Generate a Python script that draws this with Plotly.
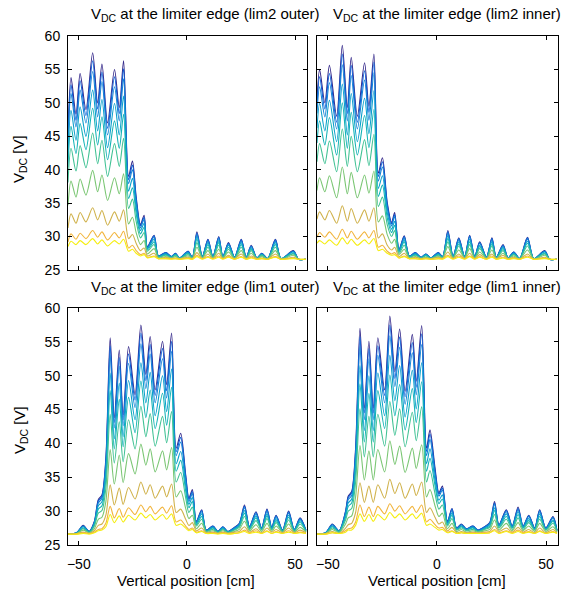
"""V_DC profiles along the limiter edge, four panels (lim2/lim1, outer/inner)."""

import plotly.graph_objects as go

FONT = "Liberation Sans, Arial, sans-serif"

# parula-like colours, top curve (dark) -> bottom curve (yellow)
LINE_COLORS = [
    "#35298a", "#0a5fd8", "#1483d4", "#0aa0cc", "#14b3b6",
    "#40c294", "#7ac673", "#d0b24c", "#f2b53d", "#f5ee10",
]

PANEL_TITLES = [
    "V<sub>DC</sub> at the limiter edge (lim2 outer)",
    "V<sub>DC</sub> at the limiter edge (lim2 inner)",
    "V<sub>DC</sub> at the limiter edge (lim1 outer)",
    "V<sub>DC</sub> at the limiter edge (lim1 inner)",
]
Y_TICKS = [25, 30, 35, 40, 45, 50, 55, 60]
X_TICKS = [-50, 0, 50]

# ---- lim2 outer (top left) ----
TL_X = [-55.0, -53.6, -51.3, -49.4, -46.7, -43.6, -41.3, -39.3, -36.7, -33.5, -31.3, -29.3, -27.0, -25.2,
        -23.5, -21.5, -19.8, -18.3, -15.2, -13.2, -9.8, -7.2, -5.3, -3.4, 0.5, 2.5, 4.6, 7.1, 9.7, 12.0,
        14.7, 16.6, 19.2, 22.0, 25.1, 27.4, 29.7, 32.3, 34.6, 37.3, 40.9, 43.5, 49.2, 51.6, 55.0]
TL_LINES = [
    [45.5, 53.8, 48.3, 54.4, 49.0, 57.5, 50.0, 55.8, 47.0, 55.0, 49.3, 56.3, 39.0, 41.3, 36.0, 31.8, 33.2, 28.5,
     30.2, 27.1, 27.6, 27.0, 27.5, 26.8, 27.8, 26.9, 30.7, 27.0, 29.6, 27.0, 30.0, 27.0, 29.1, 26.9, 29.6, 26.9,
     28.7, 26.8, 27.5, 26.7, 29.6, 26.7, 27.9, 26.6, 26.6],
    [44.7, 52.7, 47.4, 53.3, 48.1, 56.3, 49.1, 54.6, 46.2, 53.9, 48.4, 55.1, 38.5, 40.7, 35.6, 31.6, 32.9, 28.4,
     30.1, 27.1, 27.6, 27.0, 27.5, 26.8, 27.8, 26.9, 30.5, 27.0, 29.5, 27.0, 29.9, 27.0, 29.0, 26.9, 29.5, 26.9,
     28.6, 26.8, 27.5, 26.7, 29.5, 26.7, 27.8, 26.6, 26.6],
    [43.8, 51.4, 46.4, 51.9, 47.0, 54.7, 47.9, 53.2, 45.2, 52.4, 47.3, 53.6, 37.9, 40.0, 35.2, 31.3, 32.6, 28.3,
     29.9, 27.1, 27.5, 27.0, 27.4, 26.8, 27.7, 26.9, 30.3, 27.0, 29.3, 27.0, 29.7, 27.0, 28.9, 26.9, 29.3, 26.9,
     28.5, 26.8, 27.4, 26.7, 29.3, 26.7, 27.8, 26.6, 26.6],
    [42.1, 48.9, 44.4, 49.4, 45.0, 51.9, 45.8, 50.5, 43.3, 49.9, 45.2, 51.0, 36.8, 38.7, 34.3, 30.9, 32.0, 28.2,
     29.6, 27.0, 27.4, 26.9, 27.3, 26.8, 27.6, 26.8, 30.0, 26.9, 29.1, 26.9, 29.4, 26.9, 28.7, 26.8, 29.1, 26.8,
     28.3, 26.8, 27.3, 26.7, 29.1, 26.7, 27.7, 26.6, 26.6],
    [40.4, 46.5, 42.4, 46.9, 43.0, 49.2, 43.7, 47.9, 41.5, 47.3, 43.2, 48.3, 35.7, 37.3, 33.5, 30.4, 31.4, 28.0,
     29.2, 27.0, 27.3, 26.9, 27.3, 26.7, 27.5, 26.8, 29.6, 26.9, 28.8, 26.9, 29.1, 26.9, 28.4, 26.8, 28.8, 26.8,
     28.1, 26.7, 27.3, 26.7, 28.8, 26.7, 27.5, 26.6, 26.6],
    [38.1, 43.2, 39.8, 43.6, 40.3, 45.5, 40.9, 44.4, 39.0, 43.9, 40.5, 44.7, 34.2, 35.6, 32.3, 29.8, 30.6, 27.8,
     28.8, 26.9, 27.2, 26.8, 27.2, 26.7, 27.3, 26.8, 29.1, 26.8, 28.4, 26.8, 28.7, 26.8, 28.1, 26.8, 28.4, 26.8,
     27.9, 26.7, 27.2, 26.7, 28.4, 26.7, 27.4, 26.6, 26.6],
    [34.7, 38.3, 35.9, 38.6, 36.2, 39.9, 36.7, 39.2, 35.4, 38.8, 36.4, 39.4, 31.9, 32.9, 30.6, 28.8, 29.4, 27.4,
     28.2, 26.8, 27.0, 26.8, 27.0, 26.7, 27.1, 26.7, 28.4, 26.8, 27.9, 26.8, 28.1, 26.8, 27.7, 26.7, 27.9, 26.7,
     27.5, 26.7, 27.0, 26.6, 27.9, 26.6, 27.2, 26.6, 26.6],
    [31.3, 33.4, 32.0, 33.6, 32.2, 34.3, 32.5, 33.9, 31.7, 33.7, 32.3, 34.0, 29.7, 30.3, 29.0, 27.9, 28.3, 27.1,
     27.5, 26.7, 26.9, 26.7, 26.8, 26.7, 26.9, 26.7, 27.6, 26.7, 27.4, 26.7, 27.5, 26.7, 27.2, 26.7, 27.4, 26.7,
     27.1, 26.7, 26.8, 26.6, 27.4, 26.6, 26.9, 26.6, 26.6],
    [29.2, 30.4, 29.6, 30.5, 29.7, 30.9, 29.9, 30.7, 29.5, 30.6, 29.8, 30.8, 28.3, 28.7, 27.9, 27.3, 27.5, 26.9,
     27.1, 26.7, 26.7, 26.7, 26.7, 26.6, 26.8, 26.6, 27.2, 26.7, 27.0, 26.7, 27.1, 26.7, 27.0, 26.6, 27.0, 26.6,
     26.9, 26.6, 26.7, 26.6, 27.0, 26.6, 26.8, 26.6, 26.6],
    [28.5, 29.3, 28.8, 29.4, 28.8, 29.7, 28.9, 29.5, 28.6, 29.4, 28.9, 29.6, 27.8, 28.1, 27.5, 27.1, 27.3, 26.8,
     27.0, 26.7, 26.7, 26.6, 26.7, 26.6, 26.7, 26.6, 27.0, 26.6, 26.9, 26.6, 26.9, 26.6, 26.9, 26.6, 26.9, 26.6,
     26.8, 26.6, 26.7, 26.6, 26.9, 26.6, 26.7, 26.6, 26.6],
]

# ---- lim2 inner (top right) ----
TR_X = [-55.0, -53.8, -51.4, -49.3, -46.0, -43.4, -41.1, -39.3, -36.5, -33.2, -31.2, -28.9, -26.9, -25.0,
        -22.8, -20.8, -19.4, -17.4, -15.0, -12.7, -9.9, -7.3, -5.1, -2.8, 0.6, 2.6, 5.0, 7.4, 10.0, 12.7,
        15.0, 17.3, 19.6, 22.7, 25.2, 27.2, 30.3, 32.6, 35.2, 37.9, 41.5, 44.4, 49.4, 51.7, 55.0]
TR_LINES = [
    [50.5, 55.0, 50.0, 55.6, 48.0, 58.6, 49.3, 56.8, 48.0, 56.0, 49.5, 57.3, 39.5, 41.8, 35.1, 32.1, 33.6, 28.1,
     30.1, 27.1, 27.6, 26.9, 27.4, 26.8, 27.6, 27.0, 30.9, 27.0, 29.8, 27.0, 30.2, 27.0, 29.2, 26.9, 29.8, 26.9,
     28.8, 26.8, 27.7, 26.7, 29.9, 26.7, 27.9, 26.6, 26.6],
    [49.5, 53.9, 49.1, 54.4, 47.1, 57.3, 48.4, 55.6, 47.1, 54.8, 48.6, 56.1, 39.0, 41.2, 34.8, 31.9, 33.3, 28.0,
     30.0, 27.1, 27.6, 26.9, 27.4, 26.8, 27.6, 27.0, 30.7, 27.0, 29.7, 27.0, 30.1, 27.0, 29.1, 26.9, 29.7, 26.9,
     28.7, 26.8, 27.7, 26.7, 29.8, 26.7, 27.8, 26.6, 26.6],
    [48.4, 52.4, 47.9, 53.0, 46.1, 55.7, 47.3, 54.1, 46.1, 53.4, 47.4, 54.5, 38.3, 40.4, 34.3, 31.6, 33.0, 28.0,
     29.8, 27.1, 27.5, 26.9, 27.3, 26.8, 27.5, 27.0, 30.5, 27.0, 29.5, 27.0, 29.9, 27.0, 29.0, 26.9, 29.5, 26.9,
     28.6, 26.8, 27.6, 26.7, 29.6, 26.7, 27.8, 26.6, 26.6],
    [46.2, 49.9, 45.8, 50.4, 44.2, 52.8, 45.2, 51.4, 44.2, 50.7, 45.4, 51.8, 37.2, 39.1, 33.6, 31.1, 32.3, 27.8,
     29.5, 27.0, 27.4, 26.8, 27.3, 26.8, 27.4, 26.9, 30.1, 26.9, 29.2, 26.9, 29.6, 26.9, 28.7, 26.8, 29.2, 26.8,
     28.4, 26.8, 27.5, 26.7, 29.3, 26.7, 27.7, 26.6, 26.6],
    [44.0, 47.3, 43.7, 47.8, 42.2, 50.0, 43.2, 48.6, 42.2, 48.1, 43.3, 49.0, 36.0, 37.7, 32.8, 30.6, 31.7, 27.7,
     29.2, 27.0, 27.3, 26.8, 27.2, 26.7, 27.3, 26.9, 29.7, 26.9, 28.9, 26.9, 29.2, 26.9, 28.5, 26.8, 28.9, 26.8,
     28.2, 26.7, 27.4, 26.7, 29.0, 26.7, 27.5, 26.6, 26.6],
    [41.2, 43.9, 40.9, 44.3, 39.7, 46.1, 40.5, 45.0, 39.7, 44.5, 40.6, 45.3, 34.5, 35.9, 31.8, 30.0, 30.9, 27.5,
     28.7, 26.9, 27.2, 26.8, 27.1, 26.7, 27.2, 26.8, 29.2, 26.8, 28.6, 26.8, 28.8, 26.8, 28.2, 26.8, 28.6, 26.8,
     27.9, 26.7, 27.3, 26.7, 28.6, 26.7, 27.4, 26.6, 26.6],
    [36.9, 38.8, 36.7, 39.1, 35.8, 40.4, 36.4, 39.6, 35.8, 39.2, 36.5, 39.8, 32.2, 33.1, 30.3, 29.0, 29.6, 27.3,
     28.1, 26.8, 27.0, 26.7, 26.9, 26.7, 27.0, 26.8, 28.5, 26.8, 28.0, 26.8, 28.2, 26.8, 27.7, 26.7, 28.0, 26.7,
     27.5, 26.7, 27.1, 26.6, 28.0, 26.6, 27.2, 26.6, 26.6],
    [32.6, 33.7, 32.5, 33.9, 32.0, 34.6, 32.3, 34.2, 32.0, 34.0, 32.3, 34.3, 29.8, 30.4, 28.7, 28.0, 28.4, 27.0,
     27.5, 26.7, 26.9, 26.7, 26.8, 26.7, 26.9, 26.7, 27.7, 26.7, 27.4, 26.7, 27.5, 26.7, 27.3, 26.7, 27.4, 26.7,
     27.2, 26.7, 26.9, 26.6, 27.4, 26.6, 26.9, 26.6, 26.6],
    [29.9, 30.6, 29.9, 30.7, 29.6, 31.1, 29.8, 30.8, 29.6, 30.7, 29.8, 30.9, 28.4, 28.7, 27.8, 27.4, 27.6, 26.8,
     27.1, 26.7, 26.7, 26.6, 26.7, 26.6, 26.7, 26.7, 27.2, 26.7, 27.1, 26.7, 27.1, 26.7, 27.0, 26.6, 27.1, 26.6,
     26.9, 26.6, 26.8, 26.6, 27.1, 26.6, 26.8, 26.6, 26.6],
    [29.0, 29.4, 28.9, 29.5, 28.7, 29.8, 28.9, 29.6, 28.7, 29.5, 28.9, 29.7, 27.9, 28.1, 27.5, 27.2, 27.3, 26.8,
     27.0, 26.7, 26.7, 26.6, 26.7, 26.6, 26.7, 26.6, 27.0, 26.6, 26.9, 26.6, 27.0, 26.6, 26.9, 26.6, 26.9, 26.6,
     26.8, 26.6, 26.7, 26.6, 26.9, 26.6, 26.7, 26.6, 26.6],
]

# ---- lim1 outer (bottom left) ----
BL_X = [-55.0, -51.0, -48.0, -45.2, -42.8, -41.0, -39.3, -37.5, -35.5, -33.6, -31.3, -29.5, -27.0, -24.0,
        -21.3, -19.0, -17.0, -14.7, -11.3, -9.4, -7.1, -5.0, -2.9, -0.6, 0.9, 2.5, 4.3, 6.8, 8.9, 12.0,
        14.3, 16.6, 18.9, 22.0, 24.2, 26.6, 28.9, 31.9, 34.5, 37.0, 39.2, 41.2, 44.2, 47.0, 49.6, 52.3, 55.0]
BL_LINES = [
    [26.6, 26.8, 27.9, 27.0, 28.5, 31.7, 32.4, 37.8, 55.6, 43.8, 53.8, 44.2, 54.3, 47.2, 57.5, 50.2, 55.8, 47.9,
     55.1, 48.7, 56.3, 39.3, 41.5, 35.4, 31.9, 33.2, 28.5, 30.2, 27.2, 27.8, 27.0, 27.7, 27.0, 27.6, 28.2, 30.9,
     27.7, 29.9, 27.5, 30.3, 27.6, 29.4, 27.2, 30.0, 27.3, 29.0, 27.2],
    [26.6, 26.8, 27.8, 27.0, 28.4, 31.5, 32.2, 37.4, 54.4, 43.1, 52.7, 43.5, 53.2, 46.4, 56.3, 49.3, 54.6, 47.1,
     54.0, 47.8, 55.1, 38.8, 40.9, 35.1, 31.7, 32.9, 28.4, 30.1, 27.2, 27.8, 27.0, 27.7, 27.0, 27.6, 28.1, 30.7,
     27.7, 29.8, 27.5, 30.2, 27.6, 29.3, 27.2, 29.9, 27.3, 28.9, 27.2],
    [26.6, 26.8, 27.8, 27.0, 28.3, 31.2, 31.9, 36.8, 53.0, 42.3, 51.4, 42.6, 51.8, 45.3, 54.7, 48.1, 53.2, 46.0,
     52.5, 46.7, 53.6, 38.2, 40.2, 34.6, 31.4, 32.6, 28.3, 29.9, 27.1, 27.7, 27.0, 27.6, 27.0, 27.5, 28.1, 30.5,
     27.6, 29.6, 27.4, 30.0, 27.5, 29.2, 27.1, 29.7, 27.2, 28.8, 27.1],
    [26.6, 26.8, 27.7, 26.9, 28.2, 30.8, 31.4, 35.8, 50.4, 40.7, 48.9, 41.0, 49.3, 43.5, 51.9, 46.0, 50.5, 44.1,
     50.0, 44.7, 51.0, 37.0, 38.8, 33.8, 31.0, 32.0, 28.2, 29.6, 27.1, 27.6, 26.9, 27.5, 26.9, 27.4, 27.9, 30.1,
     27.5, 29.3, 27.3, 29.6, 27.4, 28.9, 27.1, 29.4, 27.2, 28.6, 27.1],
    [26.6, 26.7, 27.5, 26.9, 28.0, 30.3, 30.8, 34.8, 47.8, 39.2, 46.5, 39.5, 46.8, 41.6, 49.2, 43.8, 47.9, 42.2,
     47.4, 42.7, 48.3, 35.9, 37.5, 33.0, 30.5, 31.4, 28.0, 29.2, 27.0, 27.5, 26.9, 27.4, 26.9, 27.3, 27.8, 29.7,
     27.4, 29.0, 27.3, 29.3, 27.3, 28.6, 27.0, 29.1, 27.1, 28.4, 27.0],
    [26.6, 26.7, 27.4, 26.8, 27.8, 29.7, 30.1, 33.4, 44.3, 37.1, 43.2, 37.3, 43.5, 39.2, 45.5, 41.0, 44.4, 39.6,
     44.0, 40.1, 44.7, 34.3, 35.7, 32.0, 29.8, 30.6, 27.8, 28.8, 27.0, 27.3, 26.8, 27.3, 26.8, 27.2, 27.6, 29.2,
     27.3, 28.6, 27.2, 28.9, 27.2, 28.3, 27.0, 28.7, 27.0, 28.1, 27.0],
    [26.6, 26.7, 27.2, 26.8, 27.4, 28.8, 29.1, 31.4, 39.1, 34.0, 38.3, 34.2, 38.5, 35.5, 39.9, 36.8, 39.2, 35.8,
     38.9, 36.1, 39.4, 32.1, 33.0, 30.4, 28.9, 29.4, 27.4, 28.2, 26.9, 27.1, 26.8, 27.1, 26.8, 27.0, 27.3, 28.5,
     27.1, 28.0, 27.0, 28.2, 27.0, 27.8, 26.9, 28.1, 26.9, 27.6, 26.9],
    [26.6, 26.7, 26.9, 26.7, 27.1, 27.9, 28.1, 29.4, 33.9, 30.9, 33.4, 31.0, 33.5, 31.8, 34.3, 32.5, 33.9, 31.9,
     33.7, 32.1, 34.0, 29.8, 30.3, 28.8, 27.9, 28.3, 27.1, 27.5, 26.8, 26.9, 26.7, 26.9, 26.7, 26.9, 27.0, 27.7,
     26.9, 27.4, 26.8, 27.5, 26.9, 27.3, 26.8, 27.5, 26.8, 27.2, 26.8],
    [26.6, 26.6, 26.8, 26.7, 26.9, 27.3, 27.4, 28.2, 30.7, 29.0, 30.4, 29.1, 30.5, 29.5, 30.9, 29.9, 30.7, 29.6,
     30.6, 29.7, 30.8, 28.4, 28.7, 27.8, 27.3, 27.5, 26.9, 27.1, 26.7, 26.8, 26.7, 26.8, 26.7, 26.7, 26.8, 27.2,
     26.8, 27.1, 26.7, 27.1, 26.7, 27.0, 26.7, 27.1, 26.7, 26.9, 26.7],
    [26.6, 26.6, 26.7, 26.6, 26.8, 27.1, 27.2, 27.7, 29.5, 28.3, 29.3, 28.4, 29.4, 28.7, 29.7, 29.0, 29.5, 28.7,
     29.5, 28.8, 29.6, 27.9, 28.1, 27.5, 27.1, 27.3, 26.8, 27.0, 26.7, 26.7, 26.6, 26.7, 26.6, 26.7, 26.8, 27.0,
     26.7, 26.9, 26.7, 27.0, 26.7, 26.9, 26.7, 26.9, 26.7, 26.8, 26.7],
]

# ---- lim1 inner (bottom right) ----
BR_X = [-55.0, -51.0, -48.0, -44.9, -41.9, -40.7, -39.1, -37.3, -35.3, -33.3, -31.2, -29.2, -27.1, -24.0,
        -21.6, -19.3, -17.1, -14.6, -11.3, -9.5, -7.0, -4.8, -3.2, -0.9, 0.9, 2.5, 4.8, 6.9, 9.0, 11.2,
        13.5, 16.5, 18.8, 21.9, 24.2, 26.4, 28.4, 31.8, 34.5, 37.2, 39.5, 42.1, 44.8, 47.1, 49.9, 53.2, 55.0]
BR_LINES = [
    [26.6, 26.8, 28.1, 27.1, 30.0, 32.2, 32.9, 39.3, 57.0, 45.2, 55.1, 45.2, 55.6, 47.9, 58.8, 50.6, 56.9, 47.7,
     56.1, 49.2, 57.4, 39.3, 42.0, 36.4, 32.7, 33.7, 28.5, 30.4, 27.5, 28.1, 27.4, 27.8, 27.2, 27.7, 28.3, 31.4,
     28.0, 30.2, 27.8, 30.6, 27.8, 29.4, 27.5, 30.2, 27.5, 29.2, 27.2],
    [26.6, 26.8, 28.0, 27.1, 29.9, 32.0, 32.7, 38.8, 55.8, 44.5, 54.0, 44.5, 54.4, 47.1, 57.5, 49.6, 55.7, 46.9,
     54.9, 48.3, 56.2, 38.8, 41.4, 36.0, 32.5, 33.4, 28.4, 30.3, 27.5, 28.0, 27.4, 27.8, 27.2, 27.7, 28.2, 31.2,
     27.9, 30.1, 27.8, 30.4, 27.8, 29.3, 27.5, 30.1, 27.5, 29.1, 27.2],
    [26.6, 26.8, 28.0, 27.1, 29.7, 31.7, 32.3, 38.2, 54.3, 43.5, 52.5, 43.5, 53.0, 46.0, 55.9, 48.4, 54.2, 45.8,
     53.4, 47.2, 54.6, 38.2, 40.6, 35.5, 32.2, 33.1, 28.3, 30.1, 27.4, 28.0, 27.3, 27.7, 27.1, 27.6, 28.2, 31.0,
     27.9, 29.9, 27.7, 30.2, 27.7, 29.2, 27.4, 29.9, 27.4, 29.0, 27.1],
    [26.6, 26.8, 27.8, 27.0, 29.4, 31.2, 31.8, 37.0, 51.5, 41.9, 50.0, 41.9, 50.4, 44.1, 53.0, 46.3, 51.5, 43.9,
     50.8, 45.1, 51.9, 37.0, 39.2, 34.6, 31.6, 32.4, 28.2, 29.7, 27.3, 27.8, 27.3, 27.6, 27.1, 27.5, 28.0, 30.5,
     27.8, 29.6, 27.6, 29.9, 27.6, 28.9, 27.3, 29.6, 27.3, 28.7, 27.1],
    [26.6, 26.7, 27.7, 27.0, 29.1, 30.7, 31.2, 35.9, 48.8, 40.2, 47.4, 40.2, 47.8, 42.2, 50.1, 44.1, 48.7, 42.0,
     48.1, 43.1, 49.1, 35.9, 37.8, 33.8, 31.1, 31.8, 28.0, 29.4, 27.3, 27.7, 27.2, 27.5, 27.0, 27.4, 27.8, 30.1,
     27.6, 29.2, 27.5, 29.5, 27.5, 28.6, 27.3, 29.2, 27.3, 28.5, 27.0],
    [26.6, 26.7, 27.5, 26.9, 28.7, 30.0, 30.4, 34.3, 45.1, 38.0, 44.0, 38.0, 44.3, 39.6, 46.2, 41.2, 45.1, 39.5,
     44.6, 40.4, 45.4, 34.3, 36.0, 32.6, 30.3, 30.9, 27.8, 28.9, 27.2, 27.5, 27.1, 27.3, 27.0, 27.3, 27.6, 29.5,
     27.5, 28.8, 27.3, 29.0, 27.3, 28.3, 27.2, 28.8, 27.2, 28.2, 27.0],
    [26.6, 26.7, 27.3, 26.8, 28.1, 29.0, 29.3, 32.1, 39.7, 34.6, 38.9, 34.6, 39.1, 35.8, 40.4, 36.9, 39.6, 35.7,
     39.3, 36.3, 39.8, 32.1, 33.2, 30.8, 29.2, 29.7, 27.4, 28.2, 27.0, 27.3, 26.9, 27.1, 26.9, 27.1, 27.3, 28.7,
     27.2, 28.2, 27.1, 28.3, 27.1, 27.8, 27.0, 28.2, 27.0, 27.7, 26.9],
    [26.6, 26.7, 27.0, 26.7, 27.5, 28.0, 28.2, 29.8, 34.2, 31.3, 33.7, 31.3, 33.9, 31.9, 34.7, 32.6, 34.2, 31.9,
     34.0, 32.3, 34.3, 29.8, 30.5, 29.1, 28.1, 28.4, 27.1, 27.6, 26.8, 27.0, 26.8, 26.9, 26.8, 26.9, 27.0, 27.8,
     27.0, 27.5, 26.9, 27.6, 26.9, 27.3, 26.8, 27.5, 26.8, 27.3, 26.8],
    [26.6, 26.6, 26.8, 26.7, 27.1, 27.4, 27.5, 28.4, 30.9, 29.2, 30.6, 29.2, 30.7, 29.6, 31.1, 30.0, 30.8, 29.6,
     30.7, 29.8, 30.9, 28.4, 28.8, 28.0, 27.5, 27.6, 26.9, 27.1, 26.7, 26.8, 26.7, 26.8, 26.7, 26.8, 26.8, 27.3,
     26.8, 27.1, 26.8, 27.2, 26.8, 27.0, 26.7, 27.1, 26.7, 27.0, 26.7],
    [26.6, 26.6, 26.8, 26.7, 26.9, 27.2, 27.2, 27.9, 29.6, 28.5, 29.5, 28.5, 29.5, 28.7, 29.8, 29.0, 29.6, 28.7,
     29.6, 28.9, 29.7, 27.9, 28.1, 27.6, 27.2, 27.3, 26.8, 27.0, 26.7, 26.8, 26.7, 26.7, 26.7, 26.7, 26.8, 27.1,
     26.7, 27.0, 26.7, 27.0, 26.7, 26.9, 26.7, 27.0, 26.7, 26.9, 26.7],
]

# the page puts the plot 8 px in from the top-left corner, so size and place for that
PAGE_PAD = 8
W, H = 580 - PAGE_PAD, 591 - PAGE_PAD
# panel boxes in window pixels: (left, right, top, bottom)
BOXES = [(68, 307, 36, 270), (317, 558, 36, 270), (68, 307, 308, 545), (317, 558, 308, 545)]


def px_x(p: float) -> float:
    return (p - PAGE_PAD) / W


def px_y(p: float) -> float:
    return 1 - (p - PAGE_PAD) / H


fig = go.Figure()
panels = [(TL_X, TL_LINES), (TR_X, TR_LINES), (BL_X, BL_LINES), (BR_X, BR_LINES)]
for i, (xs, lines) in enumerate(panels):
    suffix = "" if i == 0 else str(i + 1)
    for color, ys in zip(LINE_COLORS, lines):
        fig.add_trace(go.Scatter(
            x=xs, y=ys, mode="lines",
            line=dict(color=color, width=1.1, shape="spline", smoothing=0.8),
            xaxis="x" + suffix, yaxis="y" + suffix,
            showlegend=False, hoverinfo="skip",
        ))

axis_style = dict(
    showline=True, linecolor="black", linewidth=1, mirror="allticks",
    ticks="inside", ticklen=4, tickcolor="black", tickwidth=1,
    showgrid=False, zeroline=False, automargin=False,
    tickfont=dict(family=FONT, size=14, color="black"),
)
layout = dict(
    width=W, height=H, margin=dict(l=0, r=0, t=0, b=0, pad=0),
    paper_bgcolor="white", plot_bgcolor="white",
    font=dict(family=FONT, size=14, color="black"),
)
for i, (l, r, t, b) in enumerate(BOXES):
    suffix = "" if i == 0 else str(i + 1)
    layout["xaxis" + suffix] = dict(
        axis_style, domain=[px_x(l), px_x(r)], range=[-55, 55.5], tickvals=X_TICKS,
        showticklabels=i >= 2, anchor="y" + suffix, ticklabelstandoff=6,
    )
    layout["yaxis" + suffix] = dict(
        axis_style, domain=[px_y(b), px_y(t)], range=[25, 60], tickvals=Y_TICKS,
        showticklabels=i % 2 == 0, anchor="x" + suffix, ticklabelstandoff=4,
    )

annotations = []
title_pos = [(205, 15), (447, 15), (205, 287), (447, 287)]
for text, (cx, cy) in zip(PANEL_TITLES, title_pos):
    annotations.append(dict(text=text, x=px_x(cx), y=px_y(cy), xref="paper", yref="paper",
                            xanchor="center", yanchor="middle", showarrow=False,
                            font=dict(family=FONT, size=15, color="black")))
for cy in (159, 430):
    annotations.append(dict(text="V<sub>DC</sub> [V]", x=px_x(20), y=px_y(cy), xref="paper", yref="paper",
                            xanchor="center", yanchor="middle", textangle=-90, showarrow=False,
                            font=dict(family=FONT, size=15, color="black")))
for cx in (186, 437):
    annotations.append(dict(text="Vertical position [cm]", x=px_x(cx), y=px_y(580), xref="paper", yref="paper",
                            xanchor="center", yanchor="middle", showarrow=False,
                            font=dict(family=FONT, size=15, color="black")))
layout["annotations"] = annotations

fig.update_layout(layout)
fig.write_html("out.html")
